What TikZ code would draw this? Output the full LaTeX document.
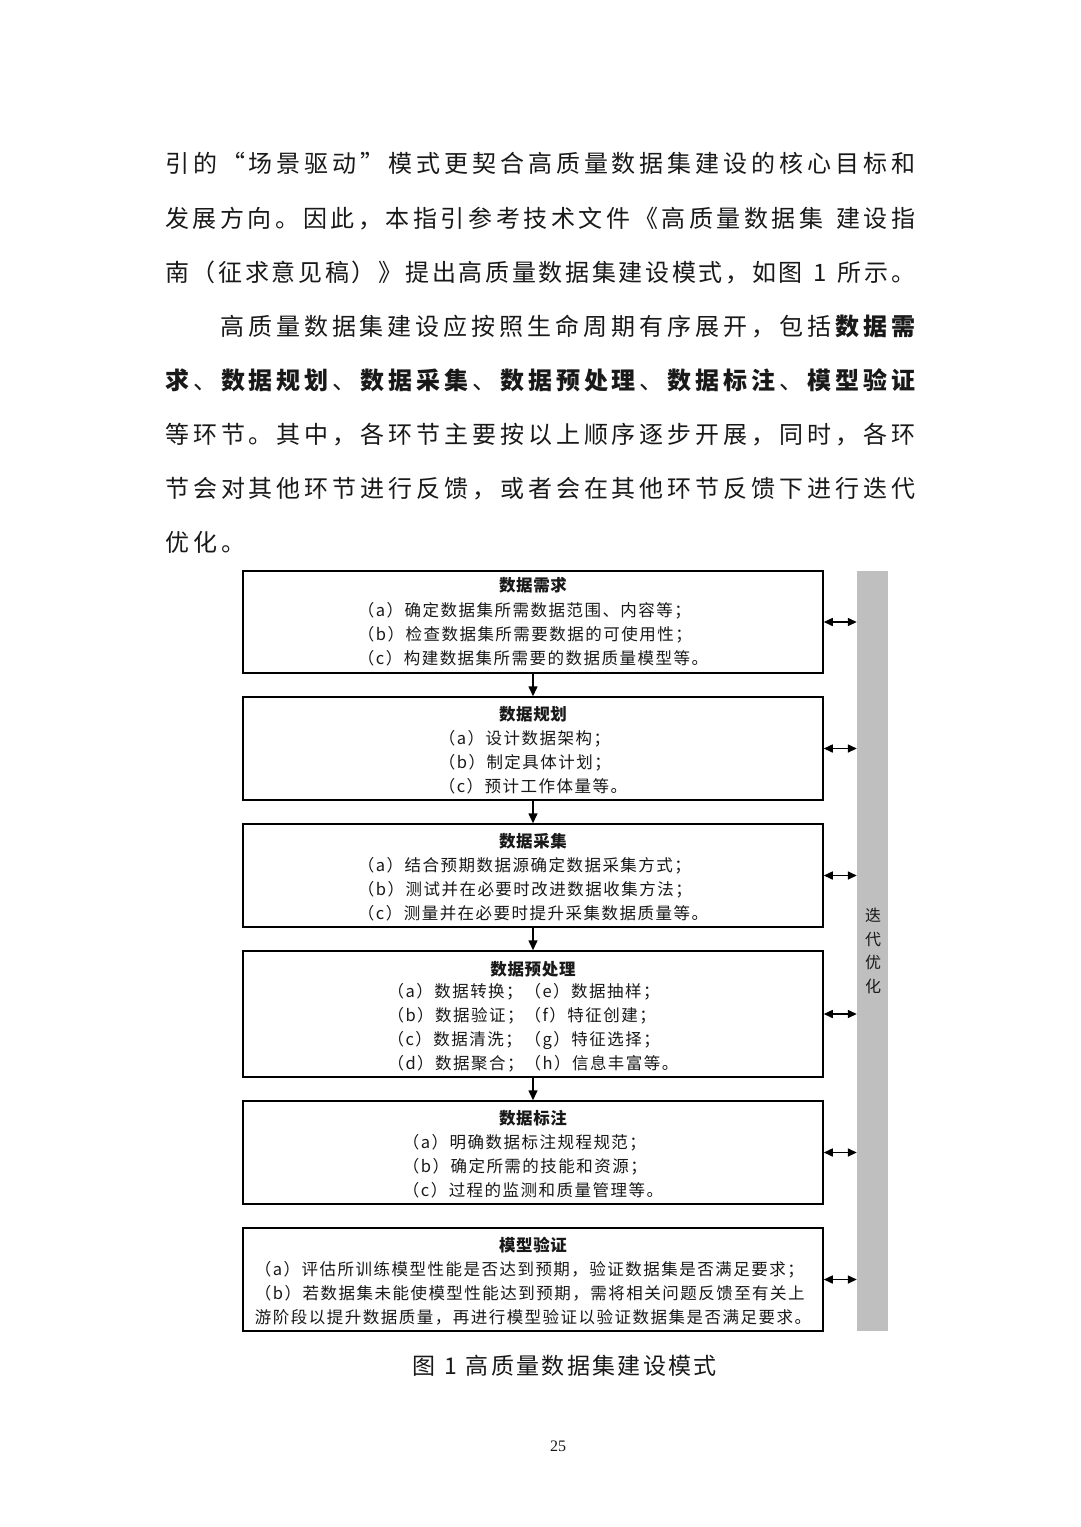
\documentclass[tikz,border=0pt]{standalone}
\usepackage{fontspec}
\setmainfont{Noto Sans CJK SC}
\newfontfamily\bodyf{Noto Sans CJK SC}
\newfontfamily\boxf[LetterSpace=9]{Noto Sans CJK SC}
\newfontfamily\ttlf[LetterSpace=4]{Noto Sans CJK SC}
\newfontfamily\capf[LetterSpace=10]{Noto Sans CJK SC}
\newfontfamily\numf{Liberation Serif}
\usetikzlibrary{arrows.meta}
\definecolor{barg}{RGB}{191,191,191}
\definecolor{ink}{RGB}{25,25,25}
\makeatletter
\def\sp@end{\sp@end}
\def\B{\bfseries}
\def\N{\mdseries}
\def\sp@aux#1{\ifx#1\sp@end\unskip\else\ifx#1\B\bfseries\else\ifx#1\N\mdseries\else#1\hskip0pt plus 1fil\relax\fi\fi\expandafter\sp@aux\fi}
\newcommand\sprd[2]{\makebox[#1][s]{\sp@aux#2\sp@end}}
\makeatother
\tikzset{
  bodyline/.style={anchor=base west, inner sep=0pt, text=ink, font=\bodyf\fontsize{24}{24}\selectfont},
  stagebox/.style={draw=black, line width=1.5pt, minimum width=580pt, inner sep=0pt},
  ttl/.style={anchor=base, inner sep=0pt, text=ink, font=\ttlf\bfseries\fontsize{16.5}{16.5}\selectfont},
  items/.style={anchor=center, inner sep=0pt, align=left, text=ink, font=\boxf\fontsize{16.5}{24}\selectfont},
  dn/.style={line width=1.5pt, -{Triangle[length=10pt,width=9pt]}},
  dbl/.style={line width=1.5pt, {Triangle[length=9pt,width=8pt]}-{Triangle[length=9pt,width=8pt]}},
}
\begin{document}
\begin{tikzpicture}[x=1pt,y=-1pt]
\useasboundingbox (0,0) rectangle (1080,1527);
\fill[white] (0,0) rectangle (1080,1527);
% body text
\node[bodyline] (p1) at (165,172.1) {\sprd{750pt}{引的“场景驱动”模式更契合高质量数据集建设的核心目标和}};
\node[bodyline] (p2) at (165,227.1) {\sprd{750pt}{发展方向。因此，本指引参考技术文件《高质量数据集\ 建设指}};
\node[bodyline] (p3) at (165,281.1) {\sprd{750pt}{南（征求意见稿）》提出高质量数据集建设模式，如图\ 1\ 所示。}};
\node[bodyline] (p4) at (220,335.1) {\sprd{695pt}{高质量数据集建设应按照生命周期有序展开，包括\B 数据需}};
\node[bodyline] (p5) at (165,389.1) {\sprd{750pt}{\B 求\N 、\B 数据规划\N 、\B 数据采集\N 、\B 数据预处理\N 、\B 数据标注\N 、\B 模型验证}};
\node[bodyline] (p6) at (165,443.1) {\sprd{750pt}{等环节。其中，各环节主要按以上顺序逐步开展，同时，各环}};
\node[bodyline] (p7) at (165,497.1) {\sprd{750pt}{节会对其他环节进行反馈，或者会在其他环节反馈下进行迭代}};
\node[bodyline] (p8) at (165,551.1) {\sprd{80pt}{优化。}};
% side bar
\node[fill=barg, minimum width=31pt, minimum height=760pt, inner sep=0pt] (bar) at (872.5,951) {};
\node[inner sep=0pt, align=center, text=ink, font=\boxf\fontsize{16}{23.5}\selectfont] (vt) at (873,951) {迭\\代\\优\\化};
% boxes
\node[stagebox, minimum height=102pt] (b1) at (533,622) {};
\node[stagebox, minimum height=103pt] (b2) at (533,748.5) {};
\node[stagebox, minimum height=103pt] (b3) at (533,875.5) {};
\node[stagebox, minimum height=126pt] (b4) at (533,1014) {};
\node[stagebox, minimum height=103pt] (b5) at (533,1152.5) {};
\node[stagebox, minimum height=103pt] (b6) at (533,1279.5) {};
% titles
\node[ttl] (t1) at (533,591.3) {数据需求};
\node[ttl] (t2) at (533,720.3) {数据规划};
\node[ttl] (t3) at (533,847.3) {数据采集};
\node[ttl] (t4) at (533,975.3) {数据预处理};
\node[ttl] (t5) at (533,1124.3) {数据标注};
\node[ttl] (t6) at (533,1251.3) {模型验证};
% items
\node[items] (i1) at (533,634) {（a）确定数据集所需数据范围、内容等；\\（b）检查数据集所需要数据的可使用性；\\（c）构建数据集所需要的数据质量模型等。};
\node[items] (i2) at (533,762) {（a）设计数据架构；\\（b）制定具体计划；\\（c）预计工作体量等。};
\node[items] (i3) at (533,889) {（a）结合预期数据源确定数据采集方式；\\（b）测试并在必要时改进数据收集方法；\\（c）测量并在必要时提升采集数据质量等。};
\node[items] (i4) at (533,1028) {\makebox[137pt][l]{（a）数据转换；}（e）数据抽样；\\\makebox[137pt][l]{（b）数据验证；}（f）特征创建；\\\makebox[137pt][l]{（c）数据清洗；}（g）特征选择；\\\makebox[137pt][l]{（d）数据聚合；}（h）信息丰富等。};
\node[items] (i5) at (533,1166) {（a）明确数据标注规程规范；\\（b）确定所需的技能和资源；\\（c）过程的监测和质量管理等。};
\node[items] (i6) at (533,1293) {（a）评估所训练模型性能是否达到预期，验证数据集是否满足要求；\\（b）若数据集未能使模型性能达到预期，需将相关问题反馈至有关上\\游阶段以提升数据质量，再进行模型验证以验证数据集是否满足要求。};
% flow arrows
\draw[dn] (b1.south) -- (b2.north);
\draw[dn] (b2.south) -- (b3.north);
\draw[dn] (b3.south) -- (b4.north);
\draw[dn] (b4.south) -- (b5.north);
% feedback arrows
\foreach \b in {b1,b2,b3,b4,b5,b6}{
  \draw[dbl] (\b.east) -- (\b.east -| bar.west);
}
% caption and page number
\node[anchor=base west, inner sep=0pt, text=ink, font=\capf\fontsize{23}{23}\selectfont] (cap) at (412,1374.7) {图\hspace{9pt}1\hspace{9pt}高质量数据集建设模式};
\node[inner sep=0pt, text=ink, font=\numf\fontsize{16}{16}\selectfont] (pg) at (558,1446) {25};
\end{tikzpicture}
\end{document}
